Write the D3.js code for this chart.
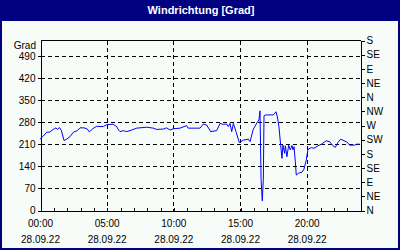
<!DOCTYPE html>
<html><head><meta charset="utf-8">
<script src="https://cdn.jsdelivr.net/npm/d3@7"></script>
<style>
html,body{margin:0;padding:0;background:#fff;}
svg{display:block;font-family:"Liberation Sans",Arial,sans-serif;}
</style></head>
<body><svg id="c" width="400" height="250"></svg>
<script>
const title = "Windrichtung [Grad]";
const unitLabel = "Grad";
const dateLabel = "28.09.22";
const hours = [0.00,0.25,0.50,0.70,1.00,1.20,1.30,1.46,1.60,1.80,2.00,2.25,2.50,2.80,3.00,3.30,3.55,3.70,3.95,4.25,4.50,4.75,5.00,5.25,5.50,5.75,5.89,6.00,6.25,6.50,6.88,7.25,8.00,8.50,8.75,9.25,9.50,9.75,10.0,10.5,11.0,11.12,12.0,12.25,12.5,12.8,13.25,13.5,13.75,14.0,14.12,14.25,14.38,14.5,14.7,14.95,15.25,15.62,15.75,16.0,16.3,16.42,16.5,16.58,16.67,16.75,16.8,16.92,17.5,17.7,17.8,17.92,18.05,18.15,18.22,18.35,18.4,18.52,18.65,18.77,18.9,18.98,19.05,19.15,19.22,19.4,19.65,19.8,19.97,20.1,20.35,20.55,20.85,21.1,21.47,21.73,21.92,22.15,22.35,22.55,22.8,23.05,23.22,23.6,23.72,24.0];
const degrees = [225,235,247,247,256,261,256,262,253,221,225,233,247,252,261,261,257,248,258,266,265,265,271,272,272,265,254,249,252,249,254,260,263,260,256,257,261,254,258,260,268,260,260,273,270,249,252,275,272,273,265,275,249,275,249,214,222,225,217,257,279,286,315,98,29,98,299,302,302,312,296,265,206,164,206,180,204,169,206,191,205,191,201,153,111,117,120,130,159,193,198,196,204,209,220,217,206,199,215,225,220,215,206,206,209,209];
const leftTicks = [0,70,140,210,280,350,420,490];
const rightTicks = [0,45,90,135,180,225,270,315,360,405,450,495,540];
const rightLabels = ["N","NE","E","SE","S","SW","W","NW","N","NE","E","SE","S"];
const majorHours = [0,5,10,15,20];
const majorLabels = ["00:00","05:00","10:00","15:00","20:00"];
const hourTicks = d3.range(0,25);

const navy = "#000080";
const svg = d3.select("#c");
const W = 400, H = 250;
const L = 40, R = 360, T = 40, B = 210;

svg.append("rect").attr("x",0).attr("y",0).attr("width",W).attr("height",H).attr("fill",navy);
svg.append("rect").attr("x",2).attr("y",21).attr("width",W-4).attr("height",H-23).attr("fill","#F8FCF8");
svg.append("text").attr("x",201).attr("y",14).attr("text-anchor","middle")
  .attr("fill","#fff").attr("font-weight","bold").attr("font-size","11px").text(title);

const x = d3.scaleLinear().domain([0,24]).range([L,R]);
const y = d3.scaleLinear().domain([0,540]).range([B,T]);

const g = svg.append("g").attr("transform","translate(0.5,0.5)").attr("shape-rendering","crispEdges");

// grid
g.selectAll(".hg").data(leftTicks.filter(d=>d>0)).enter().append("line")
  .attr("x1",L).attr("x2",R).attr("y1",d=>Math.round(y(d))).attr("y2",d=>Math.round(y(d)))
  .attr("stroke","#000").attr("stroke-dasharray","4,3");
g.selectAll(".vg").data(majorHours.filter(d=>d>0)).enter().append("line")
  .attr("y1",T).attr("y2",B).attr("x1",d=>Math.round(x(d))).attr("x2",d=>Math.round(x(d)))
  .attr("stroke","#000").attr("stroke-dasharray","4,3");
// top frame
g.append("line").attr("x1",L).attr("x2",R).attr("y1",T).attr("y2",T).attr("stroke","#000");

const yr = v => Math.round(y(v));
const xr = v => Math.round(x(v));

// axes
const ax = d3.axisLeft(d3.scaleLinear().domain([0,540]).range([B,T])).tickValues(leftTicks).tickSize(3).tickSizeOuter(0).tickPadding(2);
const gl = g.append("g").attr("transform",`translate(${L},0)`).call(ax);
const ar = d3.axisRight(y).tickValues(rightTicks).tickSize(4).tickSizeOuter(0).tickPadding(2)
  .tickFormat((d,i)=>rightLabels[i]);
const grr = g.append("g").attr("transform",`translate(${R},0)`).call(ar);
const ab = d3.axisBottom(x).tickValues(hourTicks).tickSizeInner(-3).tickSizeOuter(0).tickFormat("");
const gb = g.append("g").attr("transform",`translate(0,${B})`).call(ab);
[gl,grr,gb].forEach(a=>{
  a.selectAll("path,line").attr("stroke","#000");
  a.selectAll("text").attr("fill","#000").attr("font-size","10px").attr("font-family","Liberation Sans, Arial, sans-serif");
});

// y unit label
svg.append("text").attr("x",36).attr("y",49).attr("text-anchor","end").attr("font-size","10px").attr("fill","#000").text(unitLabel);

// x labels
const xl = svg.append("g").attr("font-size","10px").attr("fill","#000").attr("text-anchor","middle");
xl.selectAll(".t").data(majorHours).enter().append("text")
  .attr("x",d=>x(d)+0.5).attr("y",227).text((d,i)=>majorLabels[i]);
xl.selectAll(".d").data(majorHours).enter().append("text")
  .attr("x",d=>x(d)+0.5).attr("y",243).text(dateLabel);

// line
const data = hours.map((h,i)=>[h,degrees[i]]);
svg.append("path").datum(data)
  .attr("d", d3.line().x(d=>x(d[0])).y(d=>y(d[1])))
  .attr("fill","none").attr("stroke","#0000FF").attr("stroke-width",1);
</script></body></html>
